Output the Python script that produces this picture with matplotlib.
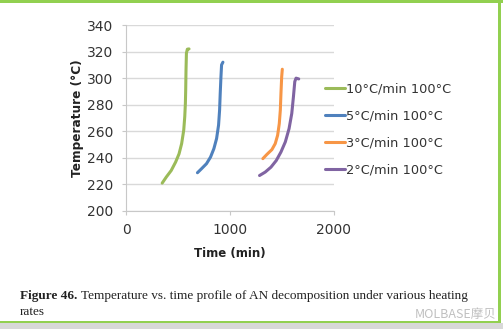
import matplotlib
matplotlib.use("Agg")
import matplotlib.pyplot as plt
from matplotlib.patches import Rectangle

# data
t_10 = [348, 387, 435, 477, 510, 535, 555, 565, 571, 574, 577, 581, 590, 606]
T_10 = [221, 225.5, 230.5, 236.8, 243, 250.7, 260.8, 271, 281, 291, 306, 318.8, 321.8, 322]
t_5 = [687, 726, 774, 813, 845, 871, 890, 900, 906, 913, 919, 932]
T_5 = [228.8, 231.8, 235.6, 240.6, 246.9, 254.5, 264.6, 276, 288.5, 301, 310, 312]
t_3 = [1316, 1355, 1403, 1435, 1458, 1474, 1484, 1490, 1497, 1503]
T_3 = [239.4, 242.6, 246.2, 250.7, 257, 265.8, 276, 288.5, 301, 306.7]
t_2 = [1284, 1339, 1394, 1445, 1490, 1532, 1568, 1594, 1610, 1623, 1635, 1661]
T_2 = [226.7, 229.3, 233, 238, 244.4, 252, 262, 273.4, 286, 297.4, 300, 299.4]

labels = ['10°C/min 100°C', '5°C/min 100°C', '3°C/min 100°C', '2°C/min 100°C']
colors = ['#9bbb59', '#4f81bd', '#f79646', '#8064a2']
xticks = [0, 1000, 2000]
yticks = [200, 220, 240, 260, 280, 300, 320, 340]

plt.rcParams['font.family'] = ['DejaVu Sans']
fig = plt.figure(figsize=(5.03, 3.29), dpi=100)
ax = fig.add_axes([0.2505, 0.3587, 0.4135, 0.5653])

series = [(t_10, T_10), (t_5, T_5), (t_3, T_3), (t_2, T_2)]
for (t, T), c, lab in zip(series, colors, labels):
    ax.plot(t, T, color=c, lw=2.2, label=lab, solid_capstyle='round')

ax.set_xlim(0, 2000)
ax.set_ylim(200, 340)
ax.set_xticks(xticks)
ax.set_yticks(yticks)
ax.grid(axis='y', color='#d9d9d9', lw=1)
ax.set_axisbelow(True)
for s in ['top', 'right']:
    ax.spines[s].set_visible(False)
for s in ['left', 'bottom']:
    ax.spines[s].set_color('#c8c8c8')
ax.tick_params(colors='#c8c8c8', labelcolor='#333333', labelsize=10, length=3)
ax.tick_params(axis='x', pad=6)
ax.tick_params(axis='y', pad=6)
ax.set_xlabel('Time (min)', fontsize=8.5, fontweight='bold', color='#222222', labelpad=7)
ax.set_ylabel('Temperature (°C)', fontsize=8.7, fontweight='bold', color='#222222', labelpad=2)

ax.legend(loc='upper left', bbox_to_anchor=(0.93, 0.72), frameon=False, fontsize=9.3,
          handlelength=1.6, handletextpad=0.05, labelspacing=1.1, borderaxespad=0,
          labelcolor='#333333')

# caption
fig.text(0.04, 0.092, 'Figure 46.', fontsize=9.5, fontweight='bold',
         family='Liberation Serif', color='#222222')
fig.text(0.161, 0.092, 'Temperature vs. time profile of AN decomposition under various heating',
         fontsize=9.5, family='Liberation Serif', color='#222222')
fig.text(0.04, 0.043, 'rates', fontsize=9.5, family='Liberation Serif', color='#222222')
fig.text(0.988, 0.032, 'MOLBASE摩贝', fontsize=9, ha='right',
         family=['Noto Sans CJK SC', 'DejaVu Sans'], color='#c0c0c0')

# green frame
fig.add_artist(Rectangle((0, 0.992), 1, 0.008, transform=fig.transFigure, color='#92d050', lw=0))
fig.add_artist(Rectangle((0.99, 0.02), 0.007, 0.98, transform=fig.transFigure, color='#92d050', lw=0))
fig.add_artist(Rectangle((0, 0.017), 0.997, 0.008, transform=fig.transFigure, color='#92d050', lw=0))
fig.add_artist(Rectangle((0, 0), 1, 0.017, transform=fig.transFigure, color='#d8d8d8', lw=0))

fig.savefig('out.png', dpi=100)
